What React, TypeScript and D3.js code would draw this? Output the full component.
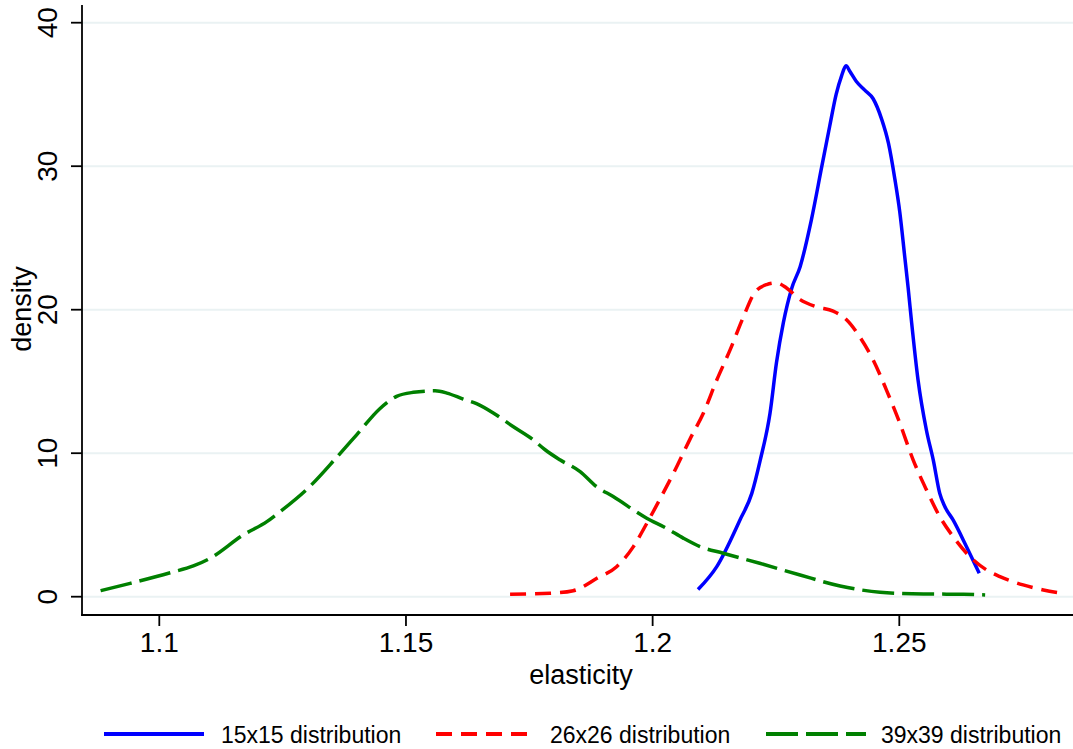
import React from "react";
import * as d3 from "d3";

const xTicks = [1.1, 1.15, 1.2, 1.25];
const xTickLabels = ["1.1", "1.15", "1.2", "1.25"];
const yTicks = [0, 10, 20, 30, 40];
const yTickLabels = ["0", "10", "20", "30", "40"];

const seriesNames = ["15x15 distribution", "26x26 distribution", "39x39 distribution"];

const blueX = [1.2092, 1.213, 1.2177, 1.2201, 1.2218, 1.2238, 1.2251, 1.2265, 1.2282, 1.2299, 1.2322, 1.2343, 1.2359, 1.2372, 1.2383, 1.2392, 1.24, 1.2413, 1.243, 1.2447, 1.2464, 1.2478, 1.2491, 1.2501, 1.2511, 1.2518, 1.2525, 1.2538, 1.2555, 1.2569, 1.2582, 1.2592, 1.2609, 1.2636, 1.2662];
const blueY = [0.5, 2.1, 5.35, 7.2, 9.5, 12.8, 16.3, 19.1, 21.5, 23.0, 26.3, 30.0, 32.8, 35.0, 36.3, 37.0, 36.6, 35.9, 35.3, 34.7, 33.3, 31.6, 29.1, 26.8, 23.7, 21.5, 19.1, 15.1, 11.6, 9.5, 7.2, 6.3, 5.35, 3.5, 1.63];

const redX = [1.1711, 1.1792, 1.1839, 1.1887, 1.1927, 1.1961, 1.1988, 1.2021, 1.2049, 1.2076, 1.2103, 1.213, 1.2157, 1.2184, 1.2207, 1.2231, 1.2251, 1.2272, 1.2299, 1.2332, 1.2366, 1.2393, 1.242, 1.2447, 1.2474, 1.2501, 1.2528, 1.2555, 1.2582, 1.2609, 1.2643, 1.2677, 1.2704, 1.2751, 1.2792, 1.2829];
const redY = [0.17, 0.24, 0.42, 1.28, 2.09, 3.49, 5.1, 7.2, 9.07, 11.0, 12.8, 15.1, 17.2, 19.5, 21.2, 21.75, 21.87, 21.5, 20.7, 20.2, 19.9, 19.3, 18.1, 16.5, 14.4, 12.1, 9.54, 7.45, 5.58, 4.19, 2.79, 1.86, 1.4, 0.82, 0.47, 0.24];

const greenX = [1.0881, 1.0941, 1.1022, 1.1069, 1.1103, 1.117, 1.1218, 1.1245, 1.1305, 1.136, 1.14, 1.1447, 1.1481, 1.1515, 1.1559, 1.1583, 1.1616, 1.1643, 1.1677, 1.1717, 1.1758, 1.1782, 1.1812, 1.1853, 1.1886, 1.192, 1.1988, 1.2028, 1.2062, 1.2096, 1.2143, 1.2217, 1.2299, 1.238, 1.2461, 1.2549, 1.263, 1.2674];
const greenY = [0.42, 0.93, 1.67, 2.14, 2.68, 4.3, 5.23, 5.93, 7.68, 9.73, 11.28, 13.1, 13.96, 14.24, 14.35, 14.19, 13.77, 13.45, 12.8, 11.86, 10.93, 10.24, 9.54, 8.72, 7.68, 6.98, 5.47, 4.77, 4.08, 3.49, 3.03, 2.33, 1.51, 0.75, 0.31, 0.19, 0.17, 0.12];

const W = 1073;
const H = 749;
const FONT = "'Liberation Sans', Arial, Helvetica, sans-serif";

export default function App() {
  const x = d3.scaleLinear().domain([1.1, 1.25]).range([159.3, 899.3]);
  const y = d3.scaleLinear().domain([0, 40]).range([596.7, 22.7]);
  const axisLeft = 82;
  const axisBottom = 615;

  const line = d3
    .line<[number, number]>()
    .x((d) => x(d[0]))
    .y((d) => y(d[1]))
    .curve(d3.curveMonotoneX);

  const series = [
    { name: seriesNames[0], xs: blueX, ys: blueY, color: "#0000ff", dash: "none" },
    { name: seriesNames[1], xs: redX, ys: redY, color: "#ff0000", dash: "16 9" },
    { name: seriesNames[2], xs: greenX, ys: greenY, color: "#008000", dash: "32 8" },
  ];

  const legendItems = [
    { x0: 104, x1: 204, tx: 221 },
    { x0: 436, x1: 536, tx: 550 },
    { x0: 766, x1: 866, tx: 881 },
  ];

  return (
    <svg
      width={W}
      height={H}
      style={{ position: "absolute", left: 0, top: 0, display: "block", background: "#fff" }}
      fontFamily={FONT}
    >
      <rect x={0} y={0} width={W} height={H} fill="#fff" />
      {/* gridlines */}
      {yTicks.map((t) => (
        <line key={"g" + t} x1={axisLeft} x2={W} y1={y(t)} y2={y(t)} stroke="#eaf2f3" strokeWidth={2} />
      ))}
      {/* series */}
      {series.map((s) => (
        <path
          key={s.name}
          d={line(s.xs.map((v, i) => [v, s.ys[i]] as [number, number])) || ""}
          fill="none"
          stroke={s.color}
          strokeWidth={3.5}
          strokeDasharray={s.dash}
          strokeLinejoin="round"
        />
      ))}
      {/* y axis */}
      <line x1={axisLeft} x2={axisLeft} y1={5} y2={axisBottom + 0.8} stroke="#000" strokeWidth={1.8} />
      {yTicks.map((t, i) => (
        <g key={"yt" + t}>
          <line x1={71} x2={axisLeft} y1={y(t)} y2={y(t)} stroke="#000" strokeWidth={1.8} />
          <text
            transform={`translate(57,${y(t)}) rotate(-90)`}
            textAnchor="middle"
            fontSize={28}
            fill="#000"
          >
            {yTickLabels[i]}
          </text>
        </g>
      ))}
      {/* x axis */}
      <line x1={axisLeft - 0.9} x2={W} y1={axisBottom} y2={axisBottom} stroke="#000" strokeWidth={1.8} />
      {xTicks.map((t, i) => (
        <g key={"xt" + t}>
          <line x1={x(t)} x2={x(t)} y1={axisBottom} y2={626} stroke="#000" strokeWidth={1.8} />
          <text x={x(t)} y={652} textAnchor="middle" fontSize={28} fill="#000">
            {xTickLabels[i]}
          </text>
        </g>
      ))}
      {/* axis titles */}
      <text x={581} y={684} textAnchor="middle" fontSize={27} fill="#000">
        elasticity
      </text>
      <text transform="translate(31,309) rotate(-90)" textAnchor="middle" fontSize={27} fill="#000">
        density
      </text>
      {/* legend */}
      {series.map((s, i) => (
        <g key={"lg" + i}>
          <line
            x1={legendItems[i].x0}
            x2={legendItems[i].x1}
            y1={734}
            y2={734}
            stroke={s.color}
            strokeWidth={4}
            strokeDasharray={s.dash}
          />
          <text x={legendItems[i].tx} y={743} fontSize={23} fill="#000">
            {s.name}
          </text>
        </g>
      ))}
    </svg>
  );
}
